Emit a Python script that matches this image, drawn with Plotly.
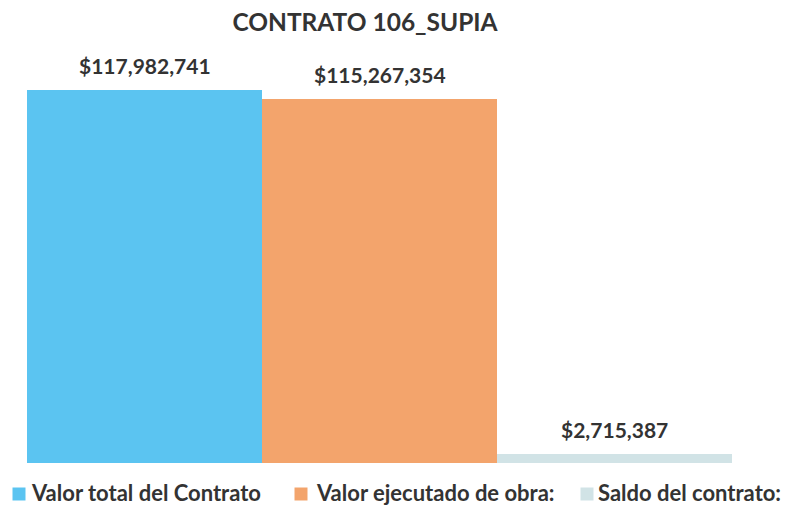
import plotly.graph_objects as go

categories = ["Valor total del Contrato", "Valor ejecutado de obra:", "Saldo del contrato:"]
values = [117982741, 115267354, 2715387]
labels = ["$117,982,741", "$115,267,354", "$2,715,387"]
colors = ["#5BC4F1", "#F3A46C", "#D1E3E6"]
title = "CONTRATO 106_SUPIA"

FONT = "Lato, 'Open Sans', sans-serif"
TXT = "#333333"

# figure size compensates the 8px page margin of the html body
W, H = 783, 498
L, R, T, B = 19, 59, 82, 43
PW, PH = W - L - R, H - T - B


def px(fx):
    return (fx - L) / PW


def py(fy):
    return (H - B - fy) / PH


fig = go.Figure()
for cat, val, col in zip(categories, values, colors):
    fig.add_trace(go.Bar(x=[cat], y=[val], name=cat, marker=dict(color=col, line=dict(width=0)),
                         hoverinfo="skip", showlegend=False))

for cat, val, lab in zip(categories, values, labels):
    fig.add_annotation(x=cat, y=val, text="<b>%s</b>" % lab, showarrow=False,
                       yanchor="bottom", yshift=10,
                       font=dict(family=FONT, size=21, color=TXT))

# legend drawn as squares + text below the plot
sq_centers = [11, 293, 579]
text_left = [21, 306, 588]
sq = 13
for cat, col, cx, tx in zip(categories, colors, sq_centers, text_left):
    fig.add_shape(type="rect", xref="paper", yref="paper",
                  x0=px(cx - sq / 2), x1=px(cx + sq / 2),
                  y0=py(486 + sq / 2), y1=py(486 - sq / 2),
                  fillcolor=col, line=dict(width=0))
    fig.add_annotation(xref="paper", yref="paper", x=px(tx), y=py(484),
                       xanchor="left", yanchor="middle", showarrow=False,
                       text="<b>%s</b>" % cat,
                       font=dict(family=FONT, size=22, color=TXT))

fig.update_layout(
    width=W, height=H,
    paper_bgcolor="white", plot_bgcolor="white",
    margin=dict(l=L, r=R, t=T, b=B, autoexpand=False),
    barmode="overlay", bargap=0,
    title=dict(text="<b>%s</b>" % title, x=357 / W, xanchor="center", xref="container",
               y=1 - 14 / H, yanchor="middle",
               font=dict(family=FONT, size=24.5, color=TXT)),
    xaxis=dict(visible=False, categoryorder="array", categoryarray=categories),
    yaxis=dict(visible=False, range=[0, values[0]]),
    showlegend=False,
)

fig.write_html("out.html")
